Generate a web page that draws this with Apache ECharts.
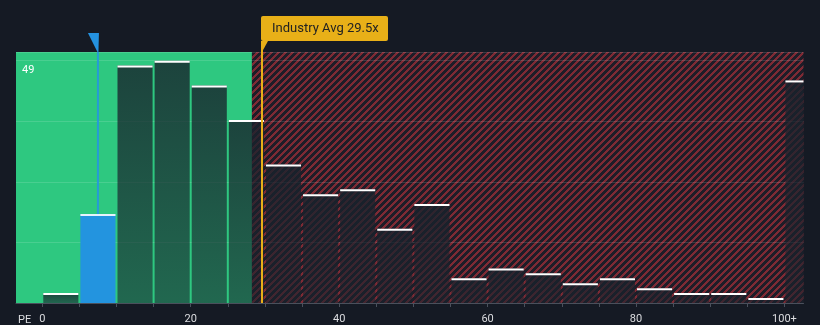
<!DOCTYPE html>
<html>
<head>
<meta charset="utf-8">
<script src="https://cdn.jsdelivr.net/npm/echarts@6/dist/echarts.min.js"></script>
<style>
  html, body { margin: 0; padding: 0; background: #151a24; }
  #chart { width: 820px; height: 325px; }
</style>
</head>
<body>
<div id="chart"></div>
<script>
// PE histogram: each bin is [start, start + binSize)
const binStarts = [0, 5, 10, 15, 20, 25, 30, 35, 40, 45, 50, 55, 60, 65, 70, 75, 80, 85, 90, 95, 100];
const companyCounts = [2, 18, 48, 49, 44, 37, 28, 22, 23, 15, 20, 5, 7, 6, 4, 5, 3, 2, 2, 1, 45];
const binSize = 5;
const tickValues = [0, 5, 10, 15, 20, 25, 30, 35, 40, 45, 50, 55, 60, 65, 70, 75, 80, 85, 90, 95, 100];
const labelValues = [0, 20, 40, 60, 80, 100];
const labelTexts = ['0', '20', '40', '60', '80', '100+'];
const companyPE = 7.5;
const industryAvg = 29.5;
const fairLimit = 28.25;
const peakCount = 49;
const xMin = -3.54, xMax = 102.57;
const yMax = 50.75, yStep = 12.25;

const FONT = 'Roboto, "Noto Sans", sans-serif';
const GREEN = '#2ec880';
const BLUE = '#2394df';
const ORANGE = '#e8b018';

// diagonal hatch tile for the overvalued zone
function hatchTile() {
  const n = 7;
  const c = document.createElement('canvas');
  c.width = n; c.height = n;
  const ctx = c.getContext('2d');
  ctx.fillStyle = '#1e1d28';
  ctx.fillRect(0, 0, n, n);
  ctx.fillStyle = '#7e2a34';
  for (let y = 0; y < n; y++) {
    for (let x = 0; x < n; x++) {
      if (((x + y) % n) < 3) ctx.fillRect(x, y, 1, 1);
    }
  }
  return c;
}
const hatch = { image: hatchTile(), repeat: 'repeat' };

const histData = binStarts.map((s, i) => [s, s + binSize, companyCounts[i]]);

const chart = echarts.init(document.getElementById('chart'), null, { renderer: 'canvas' });

chart.setOption({
  backgroundColor: '#151a24',
  animation: false,
  grid: { left: 16, right: 16.5, top: 52, bottom: 21 },
  xAxis: {
    type: 'value',
    min: xMin,
    max: xMax,
    z: 5,
    splitLine: { show: false },
    axisLine: { show: true, lineStyle: { color: '#4a505c', width: 1 } },
    axisTick: { show: true, length: 4, customValues: tickValues, lineStyle: { color: '#4a505c' } },
    axisLabel: {
      customValues: labelValues,
      margin: 11,
      color: '#dcdde0',
      fontSize: 11,
      fontFamily: FONT,
      formatter: v => labelTexts[labelValues.indexOf(v)] || ''
    }
  },
  yAxis: {
    type: 'value',
    min: 0,
    max: yMax,
    interval: yStep,
    z: 2,
    axisLine: { show: false },
    axisTick: { show: false },
    splitLine: { show: true, lineStyle: { color: 'rgba(255,255,255,0.13)', width: 1 } },
    axisLabel: {
      inside: true,
      customValues: [peakCount],
      margin: 6,
      verticalAlign: 'top',
      padding: [4, 0, 0, 0],
      color: '#ffffff',
      fontSize: 11,
      fontFamily: FONT,
      formatter: v => String(v)
    }
  },
  graphic: [
    {
      type: 'text', x: 28, y: 250, rotation: Math.PI / 2,
      style: { text: 'No. of Companies', fill: '#dcdde0', fontSize: 11, fontFamily: FONT, align: 'center', verticalAlign: 'middle' }
    },
    {
      type: 'text', x: 18, y: 320,
      style: { text: 'PE', fill: '#dcdde0', fontSize: 11, fontFamily: FONT, align: 'left', verticalAlign: 'middle' }
    }
  ],
  series: [
    {
      // valuation zones behind the bars
      type: 'custom',
      z: 1,
      data: [[fairLimit]],
      renderItem: (params, api) => {
        const cs = params.coordSys;
        const split = api.coord([api.value(0), 0])[0];
        return {
          type: 'group',
          children: [
            { type: 'rect', shape: { x: cs.x, y: cs.y, width: split - cs.x, height: cs.height }, style: { fill: GREEN } },
            { type: 'rect', shape: { x: split, y: cs.y, width: cs.x + cs.width - split, height: cs.height }, style: { fill: hatch } }
          ]
        };
      }
    },
    {
      type: 'custom',
      z: 3,
      data: histData,
      renderItem: (params, api) => {
        const cs = params.coordSys;
        const s = api.value(0), e = api.value(1), v = api.value(2);
        const top = api.coord([s, v]);
        const base = api.coord([e, 0]);
        const left = top[0] + 1;
        const right = Math.min(base[0] - 1, cs.x + cs.width);
        const w = right - left;
        const h = base[1] - top[1];
        const isCompany = companyPE >= s && companyPE < e;
        const fill = isCompany ? BLUE : {
          type: 'linear', x: 0, y: 0, x2: 0, y2: 1,
          colorStops: [
            { offset: 0, color: 'rgba(24,34,44,0.80)' },
            { offset: 1, color: 'rgba(24,34,44,0.58)' }
          ]
        };
        return {
          type: 'group',
          children: [
            { type: 'rect', shape: { x: left, y: top[1], width: w, height: h }, style: { fill } },
            { type: 'rect', shape: { x: left, y: top[1], width: w, height: 2 }, style: { fill: isCompany ? '#e6f2fc' : '#ffffff' } }
          ]
        };
      }
    },
    {
      // industry average flag
      type: 'custom',
      z: 6,
      data: [[industryAvg]],
      renderItem: (params, api) => {
        const cs = params.coordSys;
        const x = Math.round(api.coord([api.value(0), 0])[0]) + 1;
        const bottom = cs.y + cs.height;
        const boxTop = cs.y - 36, boxBottom = cs.y - 11;
        return {
          type: 'group',
          children: [
            { type: 'rect', shape: { x: x - 1, y: boxBottom, width: 2, height: bottom - boxBottom }, style: { fill: ORANGE } },
            { type: 'polygon', shape: { points: [[x - 1, boxBottom], [x + 6, boxBottom], [x, cs.y]] }, style: { fill: ORANGE } },
            { type: 'rect', shape: { x: x - 1, y: boxTop, width: 127, height: boxBottom - boxTop, r: 2 }, style: { fill: ORANGE } },
            {
              type: 'text', x: x + 10, y: (boxTop + boxBottom) / 2,
              style: { text: 'Industry Avg ' + industryAvg + 'x', fill: '#222222', fontSize: 13, fontFamily: FONT, align: 'left', verticalAlign: 'middle' }
            }
          ]
        };
      }
    },
    {
      // company marker
      type: 'custom',
      z: 6,
      data: [[companyPE, companyCounts[binStarts.findIndex(s => companyPE >= s && companyPE < s + binSize)]]],
      renderItem: (params, api) => {
        const cs = params.coordSys;
        const p = api.coord([api.value(0), api.value(1)]);
        const x = p[0];
        return {
          type: 'group',
          children: [
            { type: 'rect', shape: { x: x - 1, y: cs.y, width: 2, height: p[1] - cs.y }, style: { fill: 'rgba(38,150,224,0.9)' } },
            { type: 'polygon', shape: { points: [[x - 10, cs.y - 19], [x + 1, cs.y - 19], [x + 0.5, cs.y], [x - 0.5, cs.y]] }, style: { fill: '#2492e0' } }
          ]
        };
      }
    }
  ]
});
</script>
</body>
</html>
